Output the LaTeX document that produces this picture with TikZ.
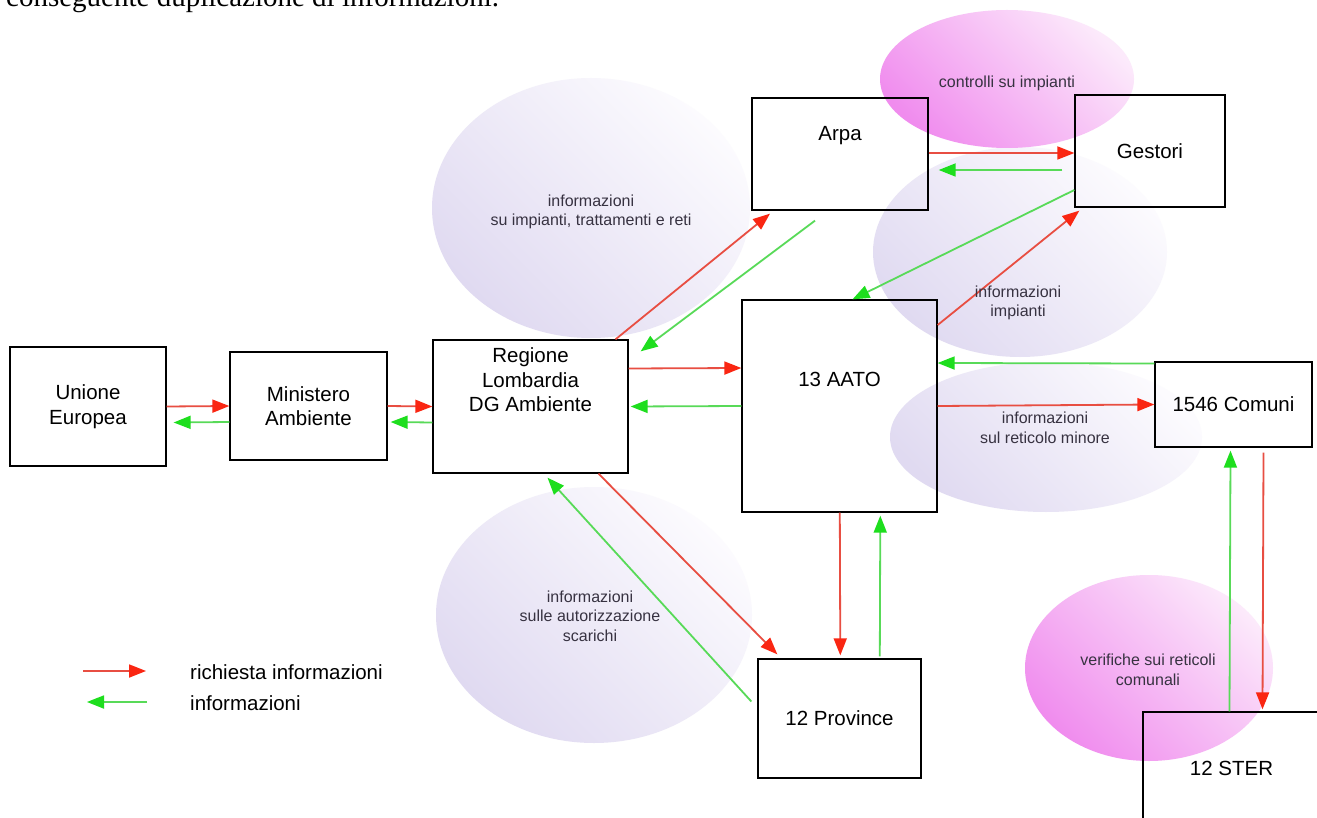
\documentclass[tikz,border=0pt]{standalone}
\usepackage{fontspec}
\setmainfont{Liberation Sans}
\newfontfamily\timesfont{Liberation Serif}
\usepackage{tikz}
\usetikzlibrary{arrows.meta,positioning}
\definecolor{reqred}{RGB}{232,78,66}
\definecolor{reqhead}{RGB}{250,38,18}
\definecolor{infgreen}{RGB}{88,218,88}
\definecolor{infhead}{RGB}{30,222,30}
\definecolor{lavender}{RGB}{224,218,241}
\definecolor{lavlight}{RGB}{252,251,254}
\definecolor{pinkdark}{RGB}{240,140,238}
\definecolor{pinklight}{RGB}{252,234,251}
\definecolor{notegray}{RGB}{55,50,65}

\begin{document}
\begin{tikzpicture}[x = 1pt, y = -1pt]
	\tikzstyle{box} = [draw = black, line width = 1.3pt, inner sep = 0pt, align = center, font = \fontsize{20.5}{24.5}\selectfont]
	\tikzstyle{every label} = [align = center, font = \fontsize{20.5}{24.5}\selectfont]
	\tikzstyle{note} = [align = center, text = notegray, font = \fontsize{16}{19.5}\selectfont]
	\tikzstyle{req} = [draw = reqred, line width = 1.8pt, -{Triangle[length = 17pt, width = 13pt, color = reqhead]}]
	\tikzstyle{inf} = [draw = infgreen, line width = 1.8pt, -{Triangle[length = 17pt, width = 13pt, color = infhead]}]
	\tikzstyle{lav} = [top color = lavlight, bottom color = lavender, shading angle = -45]
	\tikzstyle{pink} = [top color = pinklight, bottom color = pinkdark, shading angle = -45]
\fill[white] (0, 0) rectangle (1317, 818);
\useasboundingbox (0, 0) rectangle (1317, 818);
\node[anchor = base west, inner sep = 0pt, font = \timesfont\fontsize{29}{34}\selectfont] (0) at (6, 6.5) {conseguente duplicazione di informazioni.};

\shade[lav] (591, 208) ellipse [x radius = 159pt, y radius = 130pt];
\shade[lav] (1020, 252) ellipse [x radius = 147pt, y radius = 105pt];
\shade[lav] (1046, 437) ellipse [x radius = 156pt, y radius = 75pt];
\shade[lav] (594, 615) ellipse [x radius = 158pt, y radius = 128pt];
\shade[pink] (1007, 79) ellipse [x radius = 127pt, y radius = 69pt];
\shade[pink] (1149, 668) ellipse [x radius = 124pt, y radius = 93pt];

\node[box, minimum width = 156pt, minimum height = 119pt] (1) at (88, 406.5) {Unione\\Europea};
\node[box, minimum width = 157pt, minimum height = 108pt] (2) at (308.5, 406) {Ministero\\Ambiente};
\node[box, minimum width = 195pt, minimum height = 133pt, label = {[name = 3t, yshift = 26.5pt]center:Regione\\Lombardia\\DG Ambiente}] (3) at (530.5, 406.5) {};
\node[box, minimum width = 176pt, minimum height = 112pt, label = {[name = 4t, yshift = 18pt]center:Arpa}] (4) at (840, 154) {};
\node[box, minimum width = 150pt, minimum height = 112pt] (5) at (1150, 151) {Gestori};
\node[box, minimum width = 195pt, minimum height = 212pt, label = {[name = 6t, yshift = 27pt]center:13 AATO}] (6) at (839.5, 406) {};
\node[box, minimum width = 157pt, minimum height = 85pt] (7) at (1233.5, 404.5) {1546 Comuni};
\node[box, minimum width = 163pt, minimum height = 119pt] (8) at (839.5, 718.5) {12 Province};
\node[box, minimum width = 177pt, minimum height = 112pt] (9) at (1231.5, 768) {12 STER};

	\path[req] (1.east) -- (2.west);
	\path[inf] ([yshift = -16pt]2.west) -- ([xshift = 7pt, yshift = -16pt]1.east);
	\path[req] (2.east) -- (3.west);
	\path[inf] ([yshift = -16pt]3.west) -- ([xshift = 3pt, yshift = -16pt]2.east);
	\path[req] ([yshift = 38pt]3.east) -- ([yshift = 38pt]6.west);
	\path[inf] (6.west) -- ([xshift = 2pt]3.east);
	\path[req] ([xshift = 85pt]3.north) -- ([xshift = -70pt, yshift = -3pt]4.south);
	\path[inf] ([xshift = -25pt, yshift = -10pt]4.south) -- ([xshift = 12pt, yshift = -12pt]3.north east);
	\path[req] ([yshift = 1pt]4.east) -- ([yshift = -2pt]5.west);
	\path[inf] ([xshift = -12pt, yshift = -19pt]5.west) -- ([xshift = 10pt, yshift = -16pt]4.east);
	\path[inf] ([yshift = -39pt]5.west) -- ([xshift = 13pt]6.north);
	\path[req] ([yshift = 81pt]6.east) -- ([xshift = 5pt, yshift = -3pt]5.south west);
	\path[inf] ([yshift = 41pt]7.west) -- ([yshift = 43pt]6.east);
	\path[req] (6.east) -- (7.west);
	\path[req] ([xshift = 0.3pt]6.south) -- ([xshift = 0.8pt, yshift = 3pt]8.north);
	\path[inf] ([xshift = 40.3pt, yshift = 2pt]8.north) -- ([xshift = 40.8pt, yshift = -3pt]6.south);
	\path[req] ([xshift = 68pt]3.south) -- ([xshift = 20pt, yshift = 4pt]8.north west);
	\path[inf] ([xshift = -6pt, yshift = 17pt]8.west) -- ([xshift = 17pt, yshift = -4pt]3.south);
	\path[req] ([xshift = 30pt, yshift = -5pt]7.south) -- ([xshift = 31pt, yshift = 2pt]9.north);
	\path[inf] ([xshift = -2pt]9.north) -- ([xshift = -3pt, yshift = -3pt]7.south);

\node[note] (12) at (591, 212) {informazioni\\su impianti, trattamenti e reti};
\node[note] (13) at (1007, 83) {controlli su impianti};
\node[note] (14) at (1018, 303) {informazioni\\impianti};
\node[note] (15) at (1045, 428) {informazioni\\sul reticolo minore};
\node[note] (16) at (590, 616) {informazioni\\sulle autorizzazione\\scarichi};
\node[note] (17) at (1148, 670) {verifiche sui reticoli\\comunali};

\node[anchor = west, inner sep = 0pt, font = \fontsize{20.5}{24.5}\selectfont] (10) at (190, 672) {richiesta informazioni};
\node[anchor = west, inner sep = 0pt, font = \fontsize{20.5}{24.5}\selectfont] (11) at (190, 703) {informazioni};
	\path[req] ([xshift = -107pt, yshift = 1pt]10.west) -- ([xshift = -44pt, yshift = 1pt]10.west);
	\path[inf] ([xshift = -43pt, yshift = 1pt]11.west) -- ([xshift = -103pt, yshift = 1pt]11.west);
\end{tikzpicture}
\end{document}
